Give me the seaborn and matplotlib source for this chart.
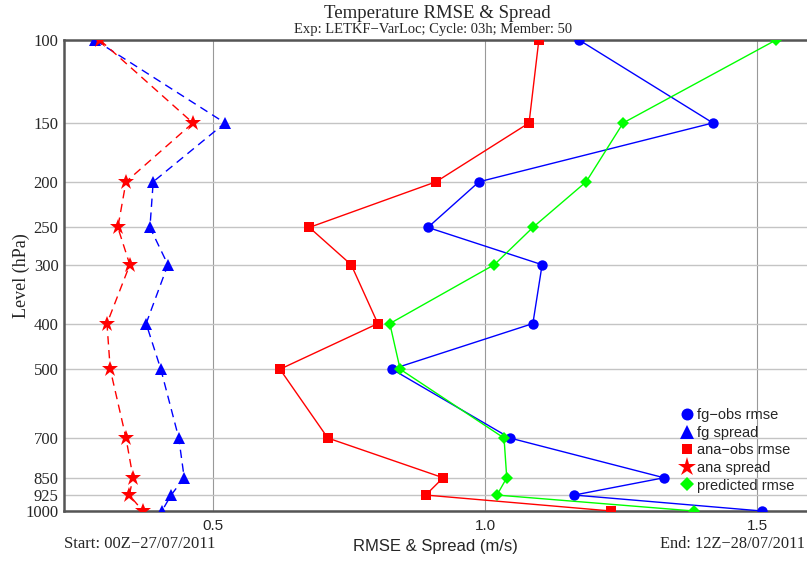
import matplotlib
matplotlib.use("Agg")
import matplotlib.pyplot as plt
from matplotlib.lines import Line2D
import seaborn as sns
import numpy as np

# Pressure levels (hPa)
levels = [100, 150, 200, 250, 300, 400, 500, 700, 850, 925, 1000]
level_labels = ["100", "150", "200", "250", "300", "400", "500", "700", "850", "925", "1000"]

# Temperature verification statistics per level
fg_obs_rmse = [1.173, 1.419, 0.989, 0.895, 1.105, 1.088, 0.829, 1.046, 1.329, 1.164, 1.509]
fg_spread = [0.283, 0.522, 0.390, 0.384, 0.417, 0.377, 0.404, 0.437, 0.447, 0.423, 0.406]
ana_obs_rmse = [1.099, 1.081, 0.910, 0.677, 0.754, 0.803, 0.623, 0.711, 0.923, 0.891, 1.232]
ana_spread = [0.292, 0.463, 0.340, 0.325, 0.347, 0.305, 0.311, 0.340, 0.353, 0.346, 0.371]
predicted_rmse = [1.535, 1.254, 1.186, 1.088, 1.017, 0.825, 0.844, 1.035, 1.040, 1.022, 1.384]

x_ticks = [0.5, 1.0, 1.5]
x_tick_labels = ["0.5", "1.0", "1.5"]

series_names = ["fg\u2212obs rmse", "fg spread", "ana\u2212obs rmse", "ana spread", "predicted rmse"]

sns.set_style("white")
plt.rcParams["font.family"] = ["Liberation Serif", "DejaVu Serif"]
sans = ["Liberation Sans", "DejaVu Sans"]

fig = plt.figure(figsize=(8.07, 5.63), dpi=100)
ax = fig.add_axes([64 / 807, 1 - 511 / 563, 1 - 64 / 807, (511 - 40) / 563])

styles = [
    (fg_obs_rmse, "#0000ff", "o", "-", 7.5),
    (fg_spread, "#0000ff", "^", (0, (6, 4)), 9),
    (ana_obs_rmse, "#ff0000", "s", "-", 6.5),
    (ana_spread, "#ff0000", "*", (0, (6, 4)), 12),
    (predicted_rmse, "#00ff00", "D", "-", 6.5),
]

for vals, col, mk, ls, ms in styles:
    sns.lineplot(x=vals, y=levels, orient="y", sort=False, estimator=None,
                 color=col, marker=mk, markersize=ms, markeredgewidth=0,
                 linewidth=1.0, linestyle=ls, ax=ax, zorder=3)

ax.set_yscale("log")
ax.set_ylim(1000, 100)
ax.set_yticks(levels)
ax.set_yticklabels(level_labels)
ax.yaxis.set_minor_locator(matplotlib.ticker.NullLocator())
ax.set_xlim(0.226, 1.592)
ax.set_xticks(x_ticks)
ax.set_xticklabels(x_tick_labels, family=sans, fontsize=11)

ax.tick_params(axis="both", length=0)
ax.tick_params(axis="y", labelsize=12, pad=4)
ax.tick_params(axis="x", pad=6)

ax.grid(axis="y", color="#c4c4c4", linewidth=1.0, zorder=0)
ax.grid(axis="x", color="#999999", linewidth=0.8, zorder=0)

for side in ["left", "bottom", "top"]:
    ax.spines[side].set_color("#555555")
    ax.spines[side].set_linewidth(1.8)
ax.spines["right"].set_visible(False)

ax.set_ylabel("Level (hPa)", fontsize=13)
ax.yaxis.set_label_coords(-34 / 743, 0.5)
ax.set_xlabel("RMSE & Spread (m/s)", family=sans, fontsize=12, labelpad=4)

fig.text(437 / 807, 1 - 14 / 563, "Temperature RMSE & Spread", ha="center", va="center", fontsize=13.5)
fig.text(433 / 807, 1 - 29 / 563, "Exp: LETKF\u2212VarLoc; Cycle: 03h; Member: 50",
         ha="center", va="center", fontsize=10.5)
fig.text(64 / 807, 1 - 544 / 563, "Start: 00Z\u221227/07/2011", ha="left", va="center", fontsize=12)
fig.text(805 / 807, 1 - 544 / 563, "End: 12Z\u221228/07/2011", ha="right", va="center", fontsize=11.8)

handles = [Line2D([], [], color=c, marker=m, linestyle="none", markersize=s * 1.15, markeredgewidth=0)
           for _, c, m, _, s in styles]
leg = ax.legend(handles, series_names, loc="upper left", bbox_to_anchor=(681 / 807, 1 - 408 / 563),
                bbox_transform=fig.transFigure, frameon=False, handlelength=0.8, handletextpad=0.3,
                labelspacing=0.25, borderpad=0, borderaxespad=0,
                prop={"family": sans, "size": 10.5})

fig.savefig("out.png", dpi=100)
